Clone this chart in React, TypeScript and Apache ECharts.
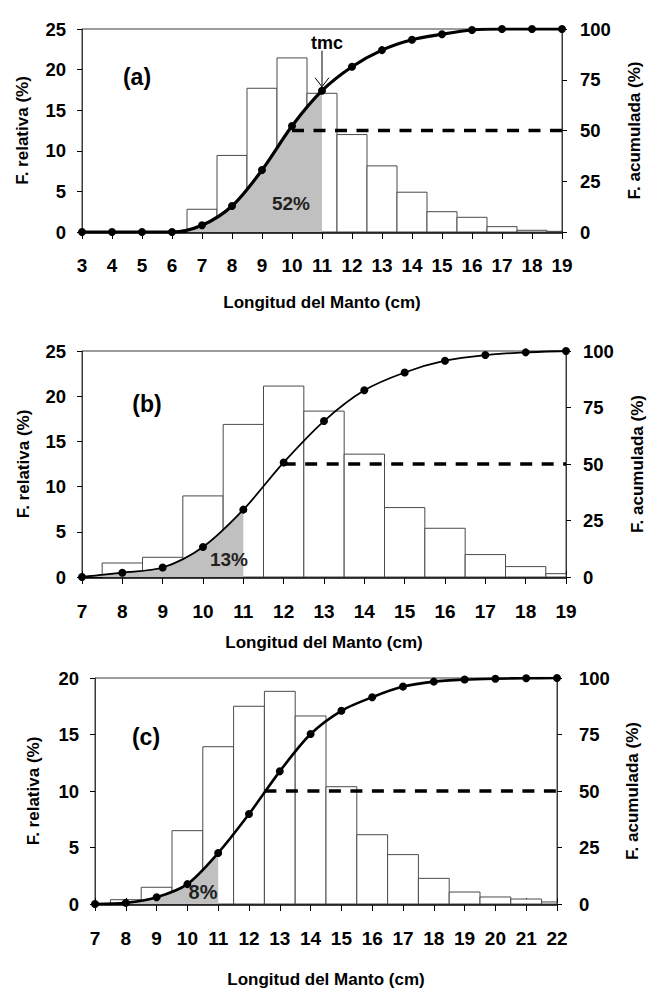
import React, { useEffect, useRef } from "react";
import * as echarts from "echarts";

// ---------- data ----------
// Panel (a)
const xA = [3, 4, 5, 6, 7, 8, 9, 10, 11, 12, 13, 14, 15, 16, 17, 18, 19];
const cumA = [0, 0, 0, 0, 3.3, 12.8, 30.5, 52.2, 69.6, 81.4, 89.6, 94.7, 97.4, 99.5, 100, 100, 100];
const barXA = [7, 8, 9, 10, 11, 12, 13, 14, 15, 16, 17, 18, 19];
const barA = [2.8, 9.43, 17.7, 21.44, 17.08, 12.0, 8.14, 4.9, 2.5, 1.81, 0.66, 0.21, 0.08];
const areaXA = [6, 7, 8, 9, 10, 11];
const areaA = [0, 3.3, 12.8, 30.5, 52.2, 69.6];
const halfA = [10, 19];

// Panel (b)
const xB = [7, 8, 9, 10, 11, 12, 13, 14, 15, 16, 17, 18, 19];
const cumB = [0, 1.9, 4.2, 13.3, 29.8, 50.7, 69, 82.6, 90.5, 95.7, 98.2, 99.4, 100];
const barXB = [8, 9, 10, 11, 12, 13, 14, 15, 16, 17, 18, 19];
const barB = [1.55, 2.18, 8.97, 16.88, 21.12, 18.35, 13.59, 7.68, 5.39, 2.48, 1.15, 0.37];
const areaXB = [7, 8, 9, 10, 11];
const areaB = [0, 1.9, 4.2, 13.3, 29.8];
const halfB = [12, 19];

// Panel (c)
const xC = [7, 8, 9, 10, 11, 12, 13, 14, 15, 16, 17, 18, 19, 20, 21, 22];
const cumC = [0, 0.5, 3, 8.8, 22.6, 39.8, 58.7, 75.2, 85.5, 91.5, 96.2, 98.4, 99.3, 99.7, 99.9, 100];
const barXC = [8, 9, 10, 11, 12, 13, 14, 15, 16, 17, 18, 19, 20, 21, 22];
const barC = [0.38, 1.48, 6.49, 13.92, 17.5, 18.82, 16.64, 10.38, 6.13, 4.37, 2.27, 1.06, 0.62, 0.44, 0.18];
const areaXC = [8, 9, 10, 11];
const areaC = [0.5, 3, 8.8, 22.6];
const halfC = [12.5, 22];

const xTitle = "Longitud del Manto (cm)";
const yLeftTitle = "F. relativa (%)";
const yRightTitle = "F. acumulada (%)";
const panelLabels = ["(a)", "(b)", "(c)"];
const areaLabels = ["52%", "13%", "8%"];

const FONT = '"Liberation Sans", Arial, sans-serif';

const zip = (xs: number[], ys: number[]) => xs.map((x, i) => [x, ys[i]]);

function renderBar(params: any, api: any) {
  const x = api.value(0);
  const v = api.value(1);
  const p1 = api.coord([x - 0.5, v]);
  const p2 = api.coord([x + 0.5, 0]);
  const cs = params.coordSys;
  const shape = echarts.graphic.clipRectByRect(
    { x: p1[0], y: p1[1], width: p2[0] - p1[0], height: p2[1] - p1[1] },
    { x: cs.x, y: cs.y, width: cs.width, height: cs.height }
  );
  if (!shape) return null;
  return {
    type: "rect",
    shape,
    style: { fill: "#ffffff", stroke: "#4a4a4a", lineWidth: 1 },
  };
}

export default function App() {
  const ref = useRef<HTMLDivElement>(null);

  useEffect(() => {
    document.body.style.margin = "0";
    if (!ref.current) return;
    const chart = echarts.init(ref.current, undefined, { renderer: "svg" });

    const grids = [
      { left: 82, right: 92, top: 29, height: 203 },
      { left: 82, right: 78, top: 351, height: 226 },
      { left: 95, right: 97, top: 678, height: 226 },
    ].map((g) => ({ ...g, show: true, borderColor: "#3a3a3a", borderWidth: 1 }));

    const xRanges = [
      [3, 19],
      [7, 19],
      [7, 22],
    ];
    const xLabelMargin = [24, 25, 25];
    const xNameGap = [62, 57, 67];

    const xAxes: any[] = [];
    xRanges.forEach((r, i) => {
      xAxes.push({
        type: "value",
        gridIndex: i,
        min: r[0],
        max: r[1],
        interval: 1,
        position: "bottom",
        splitLine: { show: false },
        axisLine: { onZero: false, lineStyle: { color: "#000", width: 2.5 } },
        axisTick: { show: true, length: 7, lineStyle: { color: "#000", width: 1 } },
        axisLabel: {
          fontFamily: FONT,
          fontWeight: "bold",
          fontSize: 19,
          color: "#000",
          margin: xLabelMargin[i],
        },
        name: xTitle,
        nameLocation: "middle",
        nameGap: xNameGap[i],
        nameTextStyle: { fontFamily: FONT, fontWeight: "bold", fontSize: 17, color: "#000" },
      });
    });
    // inner ticks for (b) and (c)
    [1, 2].forEach((i) => {
      xAxes.push({
        type: "value",
        gridIndex: i,
        min: xRanges[i][0],
        max: xRanges[i][1],
        interval: 1,
        position: "bottom",
        splitLine: { show: false },
        axisLine: { show: false },
        axisTick: { show: true, inside: true, length: 6, lineStyle: { color: "#000", width: 1 } },
        axisLabel: { show: false },
      });
    });

    const leftMax = [25, 25, 20];
    const leftGap = [51, 50, 53];
    const rightGap = [64, 63, 67];
    const rightMargin = [18, 17, 22];
    const yAxes: any[] = [];
    [0, 1, 2].forEach((i) => {
      yAxes.push({
        type: "value",
        gridIndex: i,
        position: "left",
        min: 0,
        max: leftMax[i],
        interval: 5,
        splitLine: { show: false },
        axisLine: { show: true, lineStyle: { color: "#3a3a3a", width: 1 } },
        axisTick: { show: true, length: 5, lineStyle: { color: "#000" } },
        axisLabel: { fontFamily: FONT, fontWeight: "bold", fontSize: 18.5, color: "#000", margin: 16 },
        name: yLeftTitle,
        nameLocation: "middle",
        nameRotate: 90,
        nameGap: leftGap[i],
        nameTextStyle: { fontFamily: FONT, fontWeight: "bold", fontSize: 17, color: "#000" },
      });
      yAxes.push({
        type: "value",
        gridIndex: i,
        position: "right",
        min: 0,
        max: 100,
        interval: 25,
        splitLine: { show: false },
        axisLine: { show: true, lineStyle: { color: "#3a3a3a", width: 1 } },
        axisTick: { show: true, length: 5, lineStyle: { color: "#000" } },
        axisLabel: { fontFamily: FONT, fontWeight: "bold", fontSize: 18.5, color: "#000", margin: rightMargin[i] },
        name: yRightTitle,
        nameLocation: "middle",
        nameRotate: 90,
        nameGap: rightGap[i],
        nameTextStyle: { fontFamily: FONT, fontWeight: "bold", fontSize: 17, color: "#000" },
      });
    });

    const panels = [
      { bx: barXA, bv: barA, cx: xA, cv: cumA, ax: areaXA, av: areaA, half: halfA, lw: 3.2 },
      { bx: barXB, bv: barB, cx: xB, cv: cumB, ax: areaXB, av: areaB, half: halfB, lw: 1.8 },
      { bx: barXC, bv: barC, cx: xC, cv: cumC, ax: areaXC, av: areaC, half: halfC, lw: 2.6 },
    ];

    const series: any[] = [];
    panels.forEach((p, i) => {
      const xi = i;
      const yl = i * 2;
      const yr = i * 2 + 1;
      series.push({
        type: "custom",
        xAxisIndex: xi,
        yAxisIndex: yl,
        data: zip(p.bx, p.bv),
        encode: { x: 0, y: 1 },
        renderItem: renderBar,
        z: 2,
        silent: true,
      });
      series.push({
        type: "line",
        xAxisIndex: xi,
        yAxisIndex: yr,
        data: zip(p.ax, p.av),
        smooth: 0.3,
        showSymbol: false,
        symbol: "none",
        lineStyle: { color: "#6a6a6a", width: 1 },
        areaStyle: { color: "#c0c0c0", opacity: 1 },
        z: 3,
        silent: true,
      });
      series.push({
        type: "line",
        xAxisIndex: xi,
        yAxisIndex: yr,
        data: [
          [p.half[0], 50],
          [p.half[1], 50],
        ],
        symbol: "none",
        lineStyle: { color: "#000", width: 3.5, type: [12, 9.5] },
        z: 4,
        silent: true,
      });
      series.push({
        type: "line",
        xAxisIndex: xi,
        yAxisIndex: yr,
        data: zip(p.cx, p.cv),
        smooth: 0.3,
        symbol: "circle",
        symbolSize: 8,
        itemStyle: { color: "#000" },
        lineStyle: { color: "#000", width: p.lw },
        z: 5,
        silent: true,
      });
    });

    chart.setOption({
      animation: false,
      grid: grids,
      xAxis: xAxes,
      yAxis: yAxes,
      series,
    });

    // annotations
    const labelPos = [
      [137, 77],
      [147, 404],
      [146, 737],
    ];
    const pctPos = [
      [291, 203],
      [229, 559],
      [203, 892],
    ];
    const pctSize = [19, 19, 20];
    const graphics: any[] = [];
    panelLabels.forEach((t, i) => {
      graphics.push({
        type: "text",
        x: labelPos[i][0],
        y: labelPos[i][1],
        z: 10,
        style: {
          text: t,
          fontFamily: FONT,
          fontWeight: "bold",
          fontSize: 23,
          fill: "#000",
          align: "center",
          verticalAlign: "middle",
        },
      });
      graphics.push({
        type: "text",
        x: pctPos[i][0],
        y: pctPos[i][1],
        z: 10,
        style: {
          text: areaLabels[i],
          fontFamily: FONT,
          fontWeight: "bold",
          fontSize: pctSize[i],
          fill: "#222",
          align: "center",
          verticalAlign: "middle",
        },
      });
    });

    const tip = chart.convertToPixel({ xAxisIndex: 0, yAxisIndex: 1 } as any, [11, cumA[8]]) as number[];
    const tx = tip[0];
    const ty = tip[1] - 4;
    const topY = ty - 36;
    graphics.push({
      type: "line",
      z: 10,
      shape: { x1: tx, y1: topY, x2: tx, y2: ty },
      style: { stroke: "#000", lineWidth: 1 },
    });
    graphics.push({
      type: "polyline",
      z: 10,
      shape: { points: [[tx - 7, ty - 9], [tx, ty], [tx + 7, ty - 9]] },
      style: { stroke: "#000", lineWidth: 1, fill: "none" },
    });
    graphics.push({
      type: "text",
      x: tx + 5,
      y: topY - 8,
      z: 10,
      style: {
        text: "tmc",
        fontFamily: FONT,
        fontWeight: "bold",
        fontSize: 18,
        fill: "#000",
        align: "center",
        verticalAlign: "middle",
      },
    });
    chart.setOption({ graphic: graphics });

    return () => {
      chart.dispose();
    };
  }, []);

  return <div ref={ref} style={{ width: 654, height: 993 }} />;
}
